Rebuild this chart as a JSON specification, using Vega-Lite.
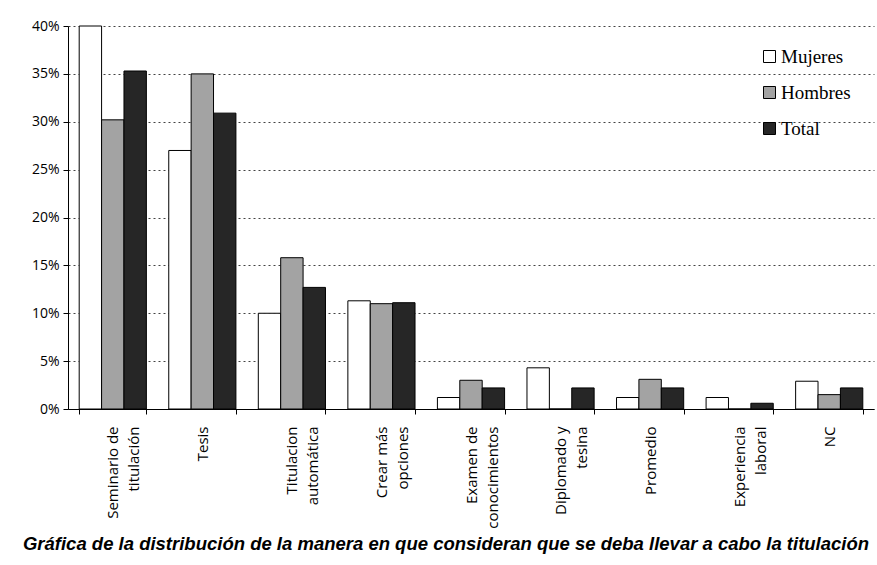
{
  "$schema": "https://vega.github.io/schema/vega-lite/v6.json",
  "width": 806,
  "height": 383,
  "autosize": "none",
  "padding": {"left": 68, "top": 26, "right": 3, "bottom": 156},
  "background": "white",
  "title": {
    "text": "Gráfica de la distribución de la manera en que consideran que se deba llevar a cabo la titulación",
    "orient": "bottom",
    "anchor": "middle",
    "frame": "group",
    "font": "Liberation Sans",
    "fontStyle": "italic",
    "fontWeight": "bold",
    "fontSize": 18.5,
    "color": "black",
    "offset": 7,
    "dx": -25
  },
  "data": {
    "values": [
      {"cat": "Seminario de|titulación", "serie": "Mujeres", "v": 0.40},
      {"cat": "Seminario de|titulación", "serie": "Hombres", "v": 0.302},
      {"cat": "Seminario de|titulación", "serie": "Total", "v": 0.353},
      {"cat": "Tesis", "serie": "Mujeres", "v": 0.27},
      {"cat": "Tesis", "serie": "Hombres", "v": 0.35},
      {"cat": "Tesis", "serie": "Total", "v": 0.309},
      {"cat": "Titulacion|automática", "serie": "Mujeres", "v": 0.10},
      {"cat": "Titulacion|automática", "serie": "Hombres", "v": 0.158},
      {"cat": "Titulacion|automática", "serie": "Total", "v": 0.127},
      {"cat": "Crear más|opciones", "serie": "Mujeres", "v": 0.113},
      {"cat": "Crear más|opciones", "serie": "Hombres", "v": 0.110},
      {"cat": "Crear más|opciones", "serie": "Total", "v": 0.111},
      {"cat": "Examen de|conocimientos", "serie": "Mujeres", "v": 0.012},
      {"cat": "Examen de|conocimientos", "serie": "Hombres", "v": 0.030},
      {"cat": "Examen de|conocimientos", "serie": "Total", "v": 0.022},
      {"cat": "Diplomado y|tesina", "serie": "Mujeres", "v": 0.043},
      {"cat": "Diplomado y|tesina", "serie": "Hombres", "v": 0.0},
      {"cat": "Diplomado y|tesina", "serie": "Total", "v": 0.022},
      {"cat": "Promedio", "serie": "Mujeres", "v": 0.012},
      {"cat": "Promedio", "serie": "Hombres", "v": 0.031},
      {"cat": "Promedio", "serie": "Total", "v": 0.022},
      {"cat": "Experiencia|laboral", "serie": "Mujeres", "v": 0.012},
      {"cat": "Experiencia|laboral", "serie": "Hombres", "v": 0.0},
      {"cat": "Experiencia|laboral", "serie": "Total", "v": 0.006},
      {"cat": "NC", "serie": "Mujeres", "v": 0.029},
      {"cat": "NC", "serie": "Hombres", "v": 0.015},
      {"cat": "NC", "serie": "Total", "v": 0.022}
    ]
  },
  "mark": {"type": "bar", "stroke": "black", "strokeWidth": 1},
  "encoding": {
    "x": {
      "field": "cat",
      "type": "nominal",
      "sort": null,
      "title": null,
      "scale": {"paddingInner": 0.25, "paddingOuter": 0.125},
      "axis": {
        "labelAngle": -90,
        "labelExpr": "split(datum.label, '|')",
        "labelFont": "Open Sans",
        "labelFontSize": 15,
        "labelColor": "black",
        "labelPadding": 12,
        "labelLineHeight": 21,
        "labelAlign": "right",
        "labelBaseline": "middle",
        "tickBand": "extent",
        "tickColor": "black",
        "tickSize": 5,
        "domainColor": "black",
        "grid": false
      }
    },
    "y": {
      "field": "v",
      "type": "quantitative",
      "title": null,
      "scale": {"domain": [0, 0.4]},
      "axis": {
        "format": ".0%",
        "values": [0, 0.05, 0.1, 0.15, 0.2, 0.25, 0.3, 0.35, 0.4],
        "labelFont": "Open Sans",
        "labelFontSize": 14,
        "labelColor": "black",
        "labelPadding": 4,
        "tickColor": "black",
        "tickSize": 5,
        "domainColor": "black",
        "grid": true,
        "gridColor": "#444",
        "gridDash": [2, 3],
        "gridWidth": 1
      }
    },
    "xOffset": {"field": "serie", "type": "nominal", "sort": ["Mujeres", "Hombres", "Total"], "scale": {"paddingInner": 0}},
    "fill": {
      "field": "serie",
      "type": "nominal",
      "sort": ["Mujeres", "Hombres", "Total"],
      "scale": {"domain": ["Mujeres", "Hombres", "Total"], "range": ["#ffffff", "#a3a3a3", "#262626"]},
      "legend": {
        "title": null,
        "orient": "none",
        "legendX": 692,
        "legendY": 21,
        "symbolType": "square",
        "symbolSize": 144,
        "symbolStrokeColor": "black",
        "symbolStrokeWidth": 1,
        "labelFont": "Liberation Serif",
        "labelFontSize": 19,
        "labelColor": "black",
        "rowPadding": 16,
        "labelOffset": 2
      }
    }
  },
  "config": {
    "view": {"stroke": null}
  }
}
